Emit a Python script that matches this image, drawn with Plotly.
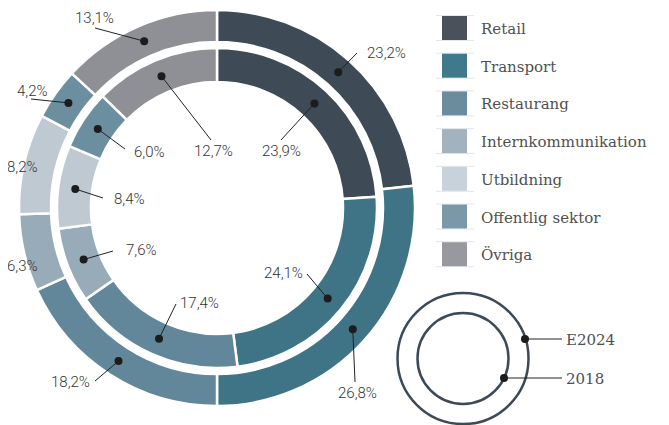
import math
import plotly.graph_objects as go

categories = ["Retail", "Transport", "Restaurang", "Internkommunikation",
              "Utbildning", "Offentlig sektor", "Övriga"]
share_e2024 = [23.2, 26.8, 18.2, 6.3, 8.2, 4.2, 13.1]
share_2018 = [23.9, 24.1, 17.4, 7.6, 8.4, 6.0, 12.7]
ring_names = ["E2024", "2018"]

colors = ["#3e4a55", "#3f7487", "#62879a", "#98abb8",
          "#bec9d2", "#6b8f9f", "#8e9096"]
legend_colors = ["#4a515b", "#40788c", "#6a8c9c", "#a2b3bf",
                 "#c8d2da", "#7b98a8", "#98999e"]

# page pixels; the plot div sits 8px in from the window's corner
W, H = 669, 425
OFF = 8
FW, FH = W - OFF, H - OFF
cx, cy = 217, 208
outer_r, outer_hole = 198, 166
inner_r, inner_hole = 160, 126

# label text centre and leader-line end, per slice (None = no leader)
outer_labels = [((386, 53), (357, 53)), ((357, 393), (355, 382)),
                ((70, 382), (95, 381)), ((22, 266), None),
                ((22, 167), None), ((32, 91), (31, 99)),
                ((94, 18), (95, 28))]
inner_labels = [((281, 151), (281, 140)), ((283, 273), (307, 274)),
                ((199, 303), (176, 304)), ((141, 250), (113, 251)),
                ((129, 199), (103, 198)), ((149, 152), (125, 149)),
                ((213, 151), (211, 140))]

label_font = dict(family="Roboto", size=15, color="#333333", weight=300)
slab_font = dict(family="DejaVu Serif", size=15, color="#505050")


def dom(r):
    x0 = cx - OFF
    y0 = FH - (cy - OFF)
    return dict(x=[(x0 - r) / FW, (x0 + r) / FW],
                y=[(y0 - r) / FH, (y0 + r) / FH])


fig = go.Figure()
for vals, r, hole, name in [(share_e2024, outer_r, outer_hole, ring_names[0]),
                            (share_2018, inner_r, inner_hole, ring_names[1])]:
    fig.add_trace(go.Pie(
        labels=categories, values=vals, name=name, sort=False,
        direction="clockwise", rotation=0, hole=hole / r, domain=dom(r),
        marker=dict(colors=colors, line=dict(color="white", width=2.5)),
        textinfo="none", hoverinfo="label+value", showlegend=False))

# invisible pixel axes for overlays
fig.add_trace(go.Scatter(x=[OFF, W], y=[OFF, H], mode="markers",
                         marker=dict(opacity=0), showlegend=False,
                         hoverinfo="skip"))

shapes = []
annotations = []


def fmt(v):
    return f"{v:.1f}".replace(".", ",") + "%"


for vals, labs, rmid in [(share_e2024, outer_labels, (outer_r + outer_hole) / 2),
                         (share_2018, inner_labels, (inner_r + inner_hole) / 2)]:
    total = sum(vals)
    cum = 0
    for v, (txt_pos, line_end) in zip(vals, labs):
        a = math.radians((cum + v / 2) / total * 360)
        cum += v
        dx, dy = cx + rmid * math.sin(a), cy - rmid * math.cos(a)
        if line_end is not None:
            shapes.append(dict(type="line", xref="x", yref="y",
                               x0=line_end[0], y0=line_end[1], x1=dx, y1=dy,
                               line=dict(color="#222222", width=1)))
            shapes.append(dict(type="circle", xref="x", yref="y",
                               x0=dx - 4, x1=dx + 4, y0=dy - 4, y1=dy + 4,
                               fillcolor="#1c1c1c", line=dict(width=0)))
        annotations.append(dict(x=txt_pos[0], y=txt_pos[1], xref="x", yref="y",
                                text=fmt(v), showarrow=False, font=label_font))

# legend
for i, (cat, col) in enumerate(zip(categories, legend_colors)):
    yc = 28 + i * 37.7
    for yl in (yc - 12.5, yc + 12.5):
        shapes.append(dict(type="line", xref="x", yref="y", x0=436, x1=474,
                           y0=yl, y1=yl, line=dict(color="#e2e6ea", width=1)))
    shapes.append(dict(type="rect", xref="x", yref="y", x0=442, x1=467,
                       y0=yc - 12, y1=yc + 12, fillcolor=col,
                       line=dict(width=0)))
    annotations.append(dict(x=479, y=yc + 1, xref="x", yref="y", text=cat,
                            showarrow=False, xanchor="left", font=slab_font))

# ring key
kx, ky = 463, 358.5
for r, (px, py), name in [(65.5, (525, 339), ring_names[0]),
                          (45.5, (504, 378), ring_names[1])]:
    shapes.append(dict(type="circle", xref="x", yref="y",
                       x0=kx - r, x1=kx + r, y0=ky - r, y1=ky + r,
                       line=dict(color="#3d4a55", width=2.5)))
    shapes.append(dict(type="line", xref="x", yref="y", x0=px, y0=py,
                       x1=562, y1=py, line=dict(color="#222222", width=1)))
    shapes.append(dict(type="circle", xref="x", yref="y",
                       x0=px - 4, x1=px + 4, y0=py - 4, y1=py + 4,
                       fillcolor="#1c1c1c", line=dict(width=0)))
    annotations.append(dict(x=564, y=py + 1, xref="x", yref="y", text=name,
                            showarrow=False, xanchor="left", font=slab_font))

fig.update_layout(
    width=FW, height=FH, margin=dict(l=0, r=0, t=0, b=0),
    paper_bgcolor="white", plot_bgcolor="rgba(0,0,0,0)",
    xaxis=dict(range=[OFF, W], visible=False, fixedrange=True),
    yaxis=dict(range=[H, OFF], visible=False, fixedrange=True),
    shapes=shapes, annotations=annotations, showlegend=False)

fig.write_html("out.html")
